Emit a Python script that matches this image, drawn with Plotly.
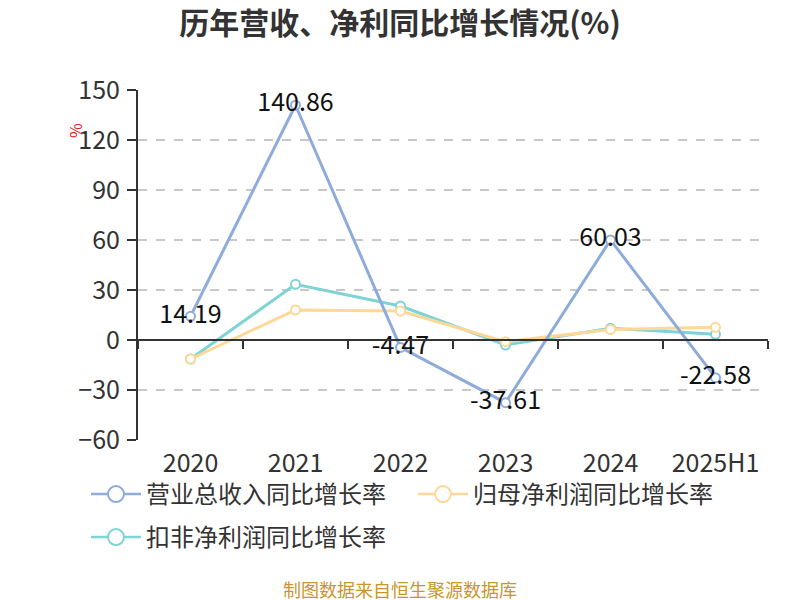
import plotly.graph_objects as go

categories = ["2020", "2021", "2022", "2023", "2024", "2025H1"]
revenue_yoy = [14.19, 140.86, -4.47, -37.61, 60.03, -22.58]
parent_np_yoy = [-11.4, 18.0, 17.4, -1.0, 6.3, 7.6]
deducted_np_yoy = [-11.4, 33.4, 20.4, -3.0, 7.0, 3.4]
y_ticks = [-60, -30, 0, 30, 60, 90, 120, 150]
series_names = ["营业总收入同比增长率", "归母净利润同比增长率", "扣非净利润同比增长率"]

FONT = "Noto Sans CJK SC"
c_rev = "#8eacdb"
c_par = "#fdd897"
c_ded = "#7fd3d4"

fig = go.Figure()

# invisible helper trace for the zero-line axis with boundary ticks
fig.add_trace(go.Scatter(x=categories, y=[0] * len(categories), xaxis="x2",
                         mode="markers", marker=dict(opacity=0),
                         showlegend=False, hoverinfo="skip"))

def add_series(name, vals, color, show_text=False):
    fig.add_trace(go.Scatter(
        x=categories, y=vals, name=name, showlegend=False,
        mode="lines+markers+text" if show_text else "lines+markers",
        line=dict(color=color, width=3),
        marker=dict(symbol="circle", size=9, color="white",
                    line=dict(color=color, width=2)),
        text=[f"{v:.2f}" for v in vals] if show_text else None,
        textposition="middle center",
        textfont=dict(size=25, color="#111", family=FONT),
        cliponaxis=False,
    ))

add_series(series_names[2], deducted_np_yoy, c_ded)
add_series(series_names[1], parent_np_yoy, c_par)
add_series(series_names[0], revenue_yoy, c_rev, True)

# legend-only entries (larger symbols as in the reference legend)
for name, color, lg in zip(series_names, [c_rev, c_par, c_ded],
                           ["legend", "legend", "legend2"]):
    fig.add_trace(go.Scatter(
        x=[None], y=[None], name=name, mode="lines+markers", legend=lg,
        line=dict(color=color, width=2.5),
        marker=dict(symbol="circle", size=16, color="white",
                    line=dict(color=color, width=2)),
    ))

ymin, ymax = -60, 150
L, R, T, B = 130, 40, 82, 168
PW, PH = 800 - L - R, 600 - T - B

legend_common = dict(orientation="h", xref="paper", x=(78 - L) / PW, yref="paper",
                     yanchor="top", xanchor="left",
                     font=dict(size=24, color="#333"), itemwidth=50,
                     entrywidth=262, bgcolor="rgba(0,0,0,0)")

fig.update_layout(
    width=800, height=600,
    paper_bgcolor="white", plot_bgcolor="white",
    margin=dict(l=L, r=R, t=T, b=B, autoexpand=False),
    font=dict(family=FONT, color="#333"),
    title=dict(text="<b>历年营收、净利同比增长情况(%)</b>", x=392 / 800, xanchor="center",
               y=1 - 15 / 600, yanchor="middle", font=dict(size=30, color="#333", family=FONT)),
    xaxis=dict(type="category", categoryorder="array", categoryarray=categories,
               range=[-0.5, 5.5], showline=False, showgrid=False, ticks="",
               ticklabelstandoff=6, automargin=False,
               tickfont=dict(size=25, color="#333"), zeroline=False),
    xaxis2=dict(type="category", categoryorder="array", categoryarray=categories,
                range=[-0.5, 5.5], overlaying="x", anchor="free",
                position=(0 - ymin) / (ymax - ymin), automargin=False,
                showline=True, linecolor="#333", linewidth=2,
                ticks="outside", tickson="boundaries", ticklen=8, tickwidth=2,
                tickcolor="#333", showticklabels=False, showgrid=False, zeroline=False),
    yaxis=dict(range=[ymin, ymax], tickvals=y_ticks, showline=True, linecolor="#333",
               linewidth=2, ticks="outside", ticklen=9, tickwidth=2, tickcolor="#333",
               showgrid=True, gridcolor="#c8c8c8", griddash="dash", gridwidth=1.5,
               zeroline=False, automargin=False, ticklabelstandoff=2,
               tickfont=dict(size=25, color="#333")),
    legend=dict(legend_common, y=(PH + T - 464) / PH),
    legend2=dict(legend_common, y=(PH + T - 507) / PH),
    showlegend=True,
    annotations=[
        dict(text="%", xref="paper", yref="paper", x=(67 - L) / PW, y=(PH + T - 123) / PH,
             xanchor="center", yanchor="middle",
             showarrow=False, textangle=-90, font=dict(size=16, color="#e02020")),
        dict(text="制图数据来自恒生聚源数据库", xref="paper", yref="paper",
             x=(392 - L) / PW, y=(PH + T - 581) / PH, yanchor="middle", xanchor="center",
             showarrow=False, font=dict(size=18, color="#c8962a")),
    ],
)

fig.write_html("out.html")
